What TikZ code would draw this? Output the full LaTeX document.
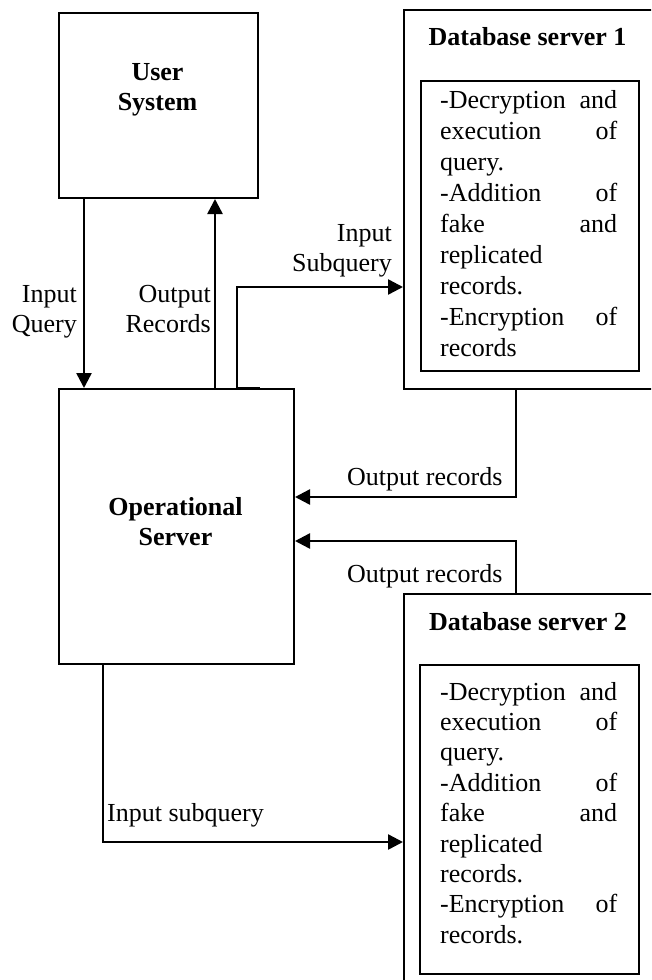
\documentclass[tikz,border=0pt]{standalone}
\usepackage{fontspec}
\setmainfont{Liberation Serif}
\usetikzlibrary{arrows.meta}
\newcommand{\jline}[2]{\leavevmode\hbox to 177pt{#1\hfill #2}}
\tikzset{
  txt/.style={font=\fontsize{26}{30.5}\selectfont, inner sep=0pt},
  btxt/.style={font=\fontsize{26}{30.5}\selectfont\bfseries, inner sep=0pt},
  box/.style={draw, line width=2pt, inner sep=0pt, anchor=north west},
  arr/.style={line width=2.5pt, -{Triangle[length=15pt,width=15pt]}}
}
\begin{document}
\begin{tikzpicture}[x=1pt,y=-1pt]
\useasboundingbox (0,0) rectangle (651,980);
\clip (0,0) rectangle (651,980);
% boxes
\node[box, minimum width=199pt, minimum height=185pt] (user) at (58,12) {};
\node[btxt, align=center, anchor=north] (usertxt) at (157.5,58.65) {\strut User\\System};
\node[box, minimum width=235pt, minimum height=275pt] (op) at (58,388) {};
\node[btxt, align=center, anchor=north] (optxt) at (175.5,493.65) {\strut Operational\\Server};
% database server 1
\node[box, minimum width=300pt, minimum height=379pt] (db1) at (403,9) {};
\node[btxt, anchor=base] (db1t) at (527.5,45) {Database server 1};
\node[box, minimum width=218pt, minimum height=290pt] (db1i) at (420,80) {};
\node[font=\fontsize{26}{31}\selectfont, inner sep=0pt, text width=177pt, align=left, anchor=north west] (db1x) at (440,86.3)
{\strut\jline{-Decryption}{and}\\
\jline{execution}{of}\\
query.\\
\jline{-Addition}{of}\\
\jline{fake}{and}\\
replicated\\
records.\\
\jline{-Encryption}{of}\\
records};
% database server 2
\node[box, minimum width=300pt, minimum height=420pt] (db2) at (403,593) {};
\node[btxt, anchor=base] (db2t) at (528,630) {Database server 2};
\node[box, minimum width=219pt, minimum height=309pt] (db2i) at (419,664) {};
\node[font=\fontsize{26}{30.4}\selectfont, inner sep=0pt, text width=177pt, align=left, anchor=north west] (db2x) at (440,678.7)
{\strut\jline{-Decryption}{and}\\
\jline{execution}{of}\\
query.\\
\jline{-Addition}{of}\\
\jline{fake}{and}\\
replicated\\
records.\\
\jline{-Encryption}{of}\\
records.};
% connectors
\draw[arr] ([xshift=26pt]user.south west) -- ([xshift=26pt]user.south west |- op.north);
\draw[arr] ([xshift=157pt]user.south west |- op.north) -- ([xshift=157pt]user.south west);
\draw[arr] ([xshift=-35pt]op.north east) -- ([xshift=-58pt]op.north east) |- ([yshift=103pt]db1.south west);
\draw[arr] ([xshift=113pt]db1.south west) |- ([yshift=-109pt]op.north east);
\draw[arr] ([xshift=113pt]db2.north west) |- ([yshift=-153pt]op.north east);
\draw[arr] ([xshift=45pt]op.south west) |- ([yshift=-249pt]db2.north west);
% labels
\node[txt, align=right, anchor=north east] (lq) at (77,280.65) {\strut Input\\Query};
\node[txt, align=right, anchor=north east] (lr) at (211,280.65) {\strut Output\\Records};
\node[txt, align=right, anchor=north east] (ls) at (392,219.65) {\strut Input\\Subquery};
\node[txt, anchor=base west] (lo1) at (347,485) {Output records};
\node[txt, anchor=base west] (lo2) at (347,582) {Output records};
\node[txt, anchor=base west] (li2) at (107,821) {Input subquery};
\end{tikzpicture}
\end{document}
